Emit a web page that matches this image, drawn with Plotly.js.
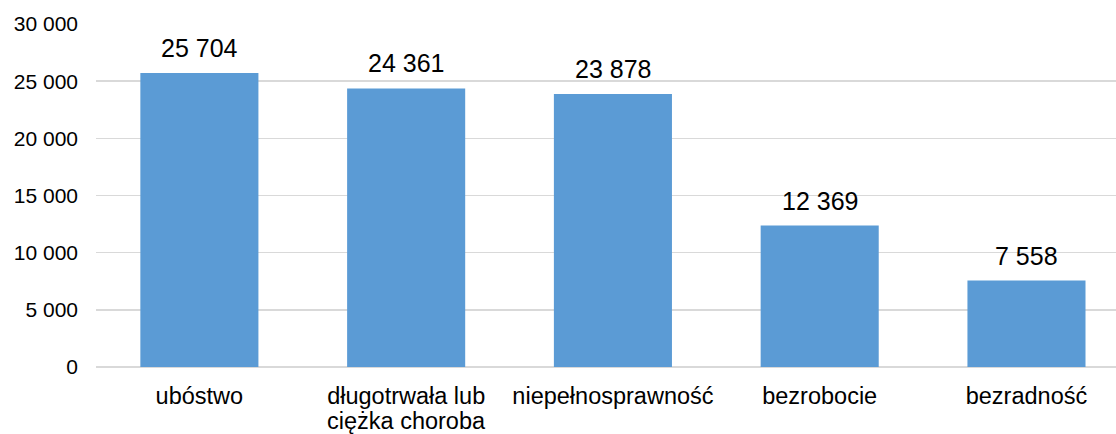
<!DOCTYPE html>
<html>
<head>
<meta charset="utf-8">
<script src="https://cdn.plot.ly/plotly-3.0.1.min.js"></script>
<style>html,body{margin:0;padding:0;background:#fff;}#chart{width:1116px;height:434px;}</style>
</head>
<body>
<div id="chart"></div>
<script>
const categories = ["ubóstwo", "długotrwała lub<br>ciężka choroba", "niepełnosprawność", "bezrobocie", "bezradność"];
const values = [25704, 24361, 23878, 12369, 7558];
const yTicks = [0, 5000, 10000, 15000, 20000, 25000, 30000];

const fmt = v => String(v).replace(/\B(?=(\d{3})+(?!\d))/g, ' ');
const FONT = '"Liberation Sans", Arial, sans-serif';
const xs = categories.map((c, i) => i);

const annotations = [];
values.forEach((v, i) => {
  annotations.push({
    x: i, y: v, xref: 'x', yref: 'y', text: fmt(v), showarrow: false,
    yanchor: 'bottom', yshift: 9, font: {family: FONT, size: 25, color: '#000'}
  });
});
categories.forEach((c, i) => {
  const lines = c.split('<br>');
  lines.slice(1).forEach((ln, k) => {
    annotations.push({
      x: i, y: 0, xref: 'x', yref: 'y', text: ln, showarrow: false, borderpad: 0,
      yanchor: 'top', yshift: -40 - 24 * k, font: {family: FONT, size: 23.5, color: '#000'}
    });
  });
});

Plotly.newPlot('chart', [{
  type: 'bar', x: xs, y: values, width: 0.571,
  marker: {color: '#5B9BD5'}, hoverinfo: 'none'
}], {
  width: 1116, height: 434,
  margin: {l: 96, r: 0, t: 24, b: 67, pad: 0},
  paper_bgcolor: '#fff', plot_bgcolor: '#fff',
  separators: ', ',
  font: {family: FONT, color: '#000'},
  showlegend: false,
  xaxis: {
    range: [-0.5, 4.433], tickmode: 'array', tickvals: xs,
    ticktext: categories.map(c => c.split('<br>')[0]),
    showgrid: false, zeroline: false, showline: false, ticks: '', ticklabelstandoff: 12,
    tickfont: {family: FONT, size: 23.5, color: '#000'}, fixedrange: true
  },
  yaxis: {
    range: [0, 30000], tickmode: 'array', tickvals: yTicks,
    ticktext: yTicks.map(fmt),
    showgrid: true, gridcolor: '#d9d9d9', gridwidth: 1.5,
    zeroline: true, zerolinecolor: '#d9d9d9', zerolinewidth: 1.5,
    showline: false, ticks: '', ticklabelstandoff: 17,
    tickfont: {family: FONT, size: 21, color: '#000'}, fixedrange: true
  },
  annotations: annotations
}, {displayModeBar: false, staticPlot: true});
</script>
</body>
</html>
